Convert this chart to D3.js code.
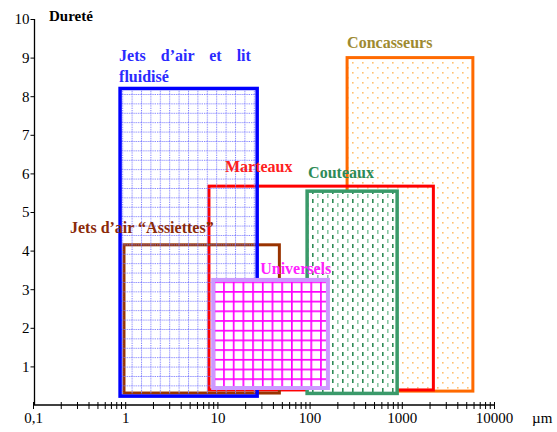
<!DOCTYPE html>
<html>
<head>
<meta charset="utf-8">
<script src="https://cdn.jsdelivr.net/npm/d3@7"></script>
<style>
  html, body { margin: 0; padding: 0; background: #fff; }
  svg { display: block; }
</style>
</head>
<body>
<svg id="chart" width="557" height="432"></svg>
<script>
// Mill families: particle size range (µm, log scale) versus hardness range
const categories = ["Concasseurs", "Marteaux", "Jets d’air “Assiettes”", "Jets d’air et lit fluidisé", "Couteaux", "Universels"];
const sizeMin  = [255, 8.1, 0.97, 0.88, 94, 9];
const sizeMax  = [5900, 2200, 47, 27, 890, 158];
const hardMin  = [0.36, 0.39, 0.31, 0.23, 0.30, 0.44];
const hardMax  = [9.0, 5.67, 4.15, 8.2, 5.54, 3.24];

const xTickValues = [0.1, 1, 10, 100, 1000, 10000];
const xTickLabels = ["0,1", "1", "10", "100", "1000", "10000"];
const yTickValues = [1, 2, 3, 4, 5, 6, 7, 8, 9, 10];

const SERIF = "'Times New Roman', 'Liberation Serif', 'DejaVu Serif', serif";

// Drawing style per family (same order as categories)
const strokeColors = ["#ff6a00", "#ff0000", "#993300", "#0000ff", "#3a9a6a", "#cc99ff"];
const textColors   = ["#9e8a30", "#ff2020", "#8b2a0a", "#2a2aff", "#2e8b57", "#ff22ff"];
const fills        = ["url(#dots)", "none", "none", "url(#dotgrid)", "url(#dashes)", "url(#grid)"];
const strokeWidths = [3, 3, 3, 3.5, 3.5, 4];
// Label anchor offsets from the rectangle's top-left corner
const labelDx = [0, 16, -54, -1, 1, 47];
const labelDy = [-10, -14, -12, -27, -13, -6];

const svg = d3.select("#chart");
const x = d3.scaleLog().domain([0.1, 10000]).range([33, 494]);
const y = d3.scaleLinear().domain([0, 10]).range([405, 19]);

// Fill patterns
const defs = svg.append("defs");

const pDots = defs.append("pattern").attr("id", "dots")
  .attr("patternUnits", "userSpaceOnUse").attr("width", 10).attr("height", 10);
pDots.append("rect").attr("x", 2).attr("y", 2).attr("width", 1.6).attr("height", 1.6).attr("fill", "#ffc070");
pDots.append("rect").attr("x", 7).attr("y", 7).attr("width", 1.6).attr("height", 1.6).attr("fill", "#ffc070");

const pDotGrid = defs.append("pattern").attr("id", "dotgrid")
  .attr("patternUnits", "userSpaceOnUse").attr("width", 9.4).attr("height", 9.4);
pDotGrid.append("line").attr("x1", 0.5).attr("y1", 0).attr("x2", 0.5).attr("y2", 9.4)
  .attr("stroke", "#7a7aff").attr("stroke-width", 1).attr("stroke-dasharray", "1.2,1");
pDotGrid.append("line").attr("x1", 0).attr("y1", 0.5).attr("x2", 9.4).attr("y2", 0.5)
  .attr("stroke", "#7a7aff").attr("stroke-width", 1).attr("stroke-dasharray", "1.2,1");

const pDash = defs.append("pattern").attr("id", "dashes")
  .attr("patternUnits", "userSpaceOnUse").attr("width", 10).attr("height", 9);
pDash.append("rect").attr("width", 10).attr("height", 9).attr("fill", "#fff");
pDash.append("rect").attr("x", 2).attr("y", 1).attr("width", 1.6).attr("height", 4).attr("fill", "#2e8b57");
pDash.append("rect").attr("x", 7).attr("y", 5).attr("width", 1.6).attr("height", 4).attr("fill", "#8cc8a6");

const pGrid = defs.append("pattern").attr("id", "grid")
  .attr("patternUnits", "userSpaceOnUse").attr("width", 9.7).attr("height", 9.7);
pGrid.append("rect").attr("width", 9.7).attr("height", 9.7).attr("fill", "#fff");
pGrid.append("rect").attr("x", 0).attr("y", 0).attr("width", 1.7).attr("height", 9.7).attr("fill", "#ff00ff");
pGrid.append("rect").attr("x", 0).attr("y", 0).attr("width", 9.7).attr("height", 1.7).attr("fill", "#ff00ff");

// Rectangles
const idx = d3.range(categories.length);
svg.append("g").selectAll("rect").data(idx).join("rect")
  .attr("x", i => x(sizeMin[i]))
  .attr("y", i => y(hardMax[i]))
  .attr("width", i => x(sizeMax[i]) - x(sizeMin[i]))
  .attr("height", i => y(hardMin[i]) - y(hardMax[i]))
  .attr("fill", i => fills[i])
  .attr("stroke", i => strokeColors[i])
  .attr("stroke-width", i => strokeWidths[i]);

// Axes
const xAxis = d3.axisBottom(x)
  .tickValues(x.ticks())
  .tickSize(4)
  .tickFormat(d => {
    const k = xTickValues.indexOf(d);
    return k >= 0 ? xTickLabels[k] : "";
  });
const gx = svg.append("g").attr("transform", `translate(0,${y(0)})`).call(xAxis)
  .attr("font-family", SERIF).attr("font-size", 15);
gx.select(".domain").attr("stroke", "#000").attr("stroke-width", 1.3).attr("d", `M${x(0.1)},0H${x(10000)}`);
gx.selectAll(".tick line").attr("y1", -3).attr("y2", 4).attr("stroke", "#000");
gx.selectAll(".tick text").attr("y", 18).attr("dy", 0).attr("fill", "#000");

const yAxis = d3.axisLeft(y).tickValues(yTickValues).tickSize(4).tickPadding(1).tickFormat(d3.format("d"));
const gy = svg.append("g").attr("transform", `translate(${x(0.1) + 1.5},0)`).call(yAxis)
  .attr("font-family", SERIF).attr("font-size", 15);
gy.select(".domain").attr("stroke", "#000").attr("stroke-width", 1.3).attr("d", `M0,${y(10)}V${y(0)}`);
gy.selectAll(".tick line").attr("stroke", "#000");
gy.selectAll(".tick text").attr("fill", "#000");

// Axis titles
svg.append("text").attr("x", 49).attr("y", 21).attr("font-weight", "bold")
  .attr("font-family", SERIF).attr("font-size", 15).attr("fill", "#000").text("Dureté");
svg.append("text").attr("x", 532).attr("y", 423)
  .attr("font-family", SERIF).attr("font-size", 15).attr("fill", "#000").text("µm");

// Family labels
const labels = svg.append("g").attr("font-family", SERIF).attr("font-weight", "bold").attr("font-size", 16);
idx.forEach(i => {
  const lx = x(sizeMin[i]) + labelDx[i];
  const t = labels.append("text")
    .attr("x", lx)
    .attr("y", y(hardMax[i]) + labelDy[i])
    .attr("fill", textColors[i]);
  if (categories[i] === "Jets d’air et lit fluidisé") {
    t.append("tspan").attr("word-spacing", 11).text("Jets d’air et lit");
    t.append("tspan").attr("x", lx).attr("dy", 21).text("fluidisé");
  } else {
    t.text(categories[i]);
  }
});
</script>
</body>
</html>
